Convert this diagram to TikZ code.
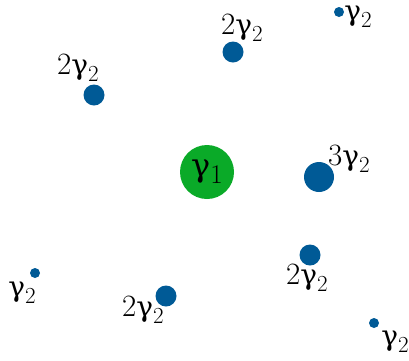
\documentclass[tikz,border=0pt]{standalone}
\usepackage{fontspec}
\newfontfamily\grkfont{DejaVu Serif}
\usepackage{xcolor}
\usepackage{tikz}
\usetikzlibrary{positioning}

\definecolor{ballblue}{RGB}{0,90,150}
\definecolor{ballgreen}{RGB}{10,170,40}
\newcommand{\gam}[1]{{\grkfont\fontsize{28}{28}\selectfont γ}\raisebox{-0.22em}{\fontsize{23}{23}\selectfont #1}}
\newcommand{\gambig}[1]{{\grkfont\fontsize{32}{32}\selectfont γ}\raisebox{-0.22em}{\fontsize{27}{27}\selectfont #1}}

\begin{document}
\begin{tikzpicture}[x=1pt, y=-1pt,
    mainball/.style={circle, fill=ballgreen, draw=none, minimum size=54pt,
                     inner sep=0pt, font=\fontsize{32}{32}\selectfont},
    bigball/.style={circle, fill=ballblue, minimum size=30pt, inner sep=0pt},
    midball/.style={circle, fill=ballblue, minimum size=21pt, inner sep=0pt},
    smallball/.style={circle, fill=ballblue, minimum size=10pt, inner sep=0pt},
    lbl/.style={font=\fontsize{31}{31}\selectfont, inner sep=0pt}
]
    \useasboundingbox (0,0) rectangle (409,360);

    \node[mainball] (g1) at (207,172) {\gambig{1}};

    \node[bigball]   (b3)  at (319,177) {};
    \node[midball]   (m1)  at (233,52)  {};
    \node[midball]   (m2)  at (94,95)   {};
    \node[midball]   (m3)  at (310,255) {};
    \node[midball]   (m4)  at (166,296) {};
    \node[smallball] (s1)  at (339,12)  {};
    \node[smallball] (s2)  at (35,273)  {};
    \node[smallball] (s3)  at (374,323) {};

    % multiplicities
    \node[lbl] (lb3) at (349,159) {3\gam{2}};
    \node[lbl] (lm1) at (242,28)  {2\gam{2}};
    \node[lbl] (lm2) at (78,68)   {2\gam{2}};
    \node[lbl] (lm3) at (307,278) {2\gam{2}};
    \node[lbl] (lm4) at (143,310) {2\gam{2}};
    \node[lbl] (ls1) at (358,17)  {\gam{2}};
    \node[lbl] (ls2) at (22,293)  {\gam{2}};
    \node[lbl] (ls3) at (395,342) {\gam{2}};
\end{tikzpicture}
\end{document}
